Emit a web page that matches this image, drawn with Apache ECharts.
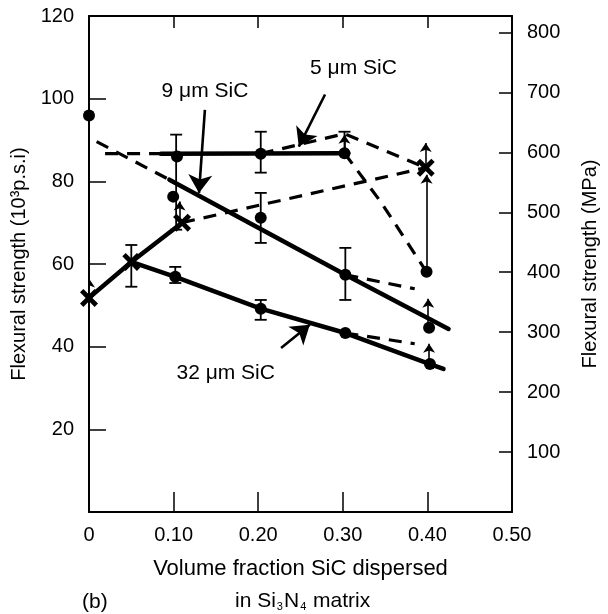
<!DOCTYPE html>
<html>
<head>
<meta charset="utf-8">
<script src="https://cdn.jsdelivr.net/npm/echarts@6/dist/echarts.min.js"></script>
<style>
html,body{margin:0;padding:0;background:#fff;}
#c{width:608px;height:614px;}
</style>
</head>
<body>
<div id="c"></div>
<script>
// ---- data (x = volume fraction, y = flexural strength in 10^3 psi) ----
const xTickLabels = {0:'0', 0.1:'0.10', 0.2:'0.20', 0.3:'0.30', 0.4:'0.40', 0.5:'0.50'};
const leftTicks = [20, 40, 60, 80, 100, 120];
const rightTicks = [100, 200, 300, 400, 500, 600, 700, 800];

const s32Solid = [[0.050,60.5],[0.102,56.9],[0.203,49.2],[0.303,43.3],[0.403,35.8],[0.419,34.6]];
const s32Points = [[0.102,56.9],[0.203,49.2],[0.303,43.3],[0.403,35.8]];
const s32Dashed = [[0.303,43.3],[0.385,40.7]];

const s9Solid = [[0.095,80.4],[0.303,57.4],[0.425,44.3]];
const s9DashedStart = [[0.009,89.6],[0.095,80.4]];
const s9DashedEnd = [[0.303,57.4],[0.385,54.0]];
const s9Points = [[0.303,57.4]];

const s5Solid = [[0.085,86.7],[0.302,86.8]];
const s5Points = [[0.104,86.0],[0.203,86.7],[0.302,86.8]];
const s5DashedLeft = [[0.019,86.7],[0.085,86.7]];
const s5DashedUp = [[0.203,86.7],[0.302,91.5],[0.398,83.3]];
const s5DashedDown = [[0.302,86.8],[0.345,75.0],[0.399,58.1]];

const crossSolid = [[0,51.8],[0.050,60.5],[0.110,70.0]];
const crossDashed = [[0.110,70.0],[0.398,83.3]];
const crossPoints = [[0,51.8],[0.050,60.5],[0.110,70.0],[0.398,83.3]];

const otherPoints = [[0,95.9],[0.0995,76.3],[0.203,71.2],[0.399,58.1],[0.402,44.6]];

// error bars: [x, low, high]
const errorBars = [[0.050,54.5,64.6],[0.102,55.4,59.3],[0.203,46.5,51.3],[0.103,68.3,91.3],
                   [0.203,82.1,92.0],[0.203,65.1,77.2],[0.303,51.3,63.9],[0.302,86.8,92.0]];

// small upward arrows: [x, from, to]
const upArrows = [[0,51.8,56.5],[0.107,70.7,75.1],[0.302,87.5,91.3],[0.398,83.3,89.3],
                  [0.399,58.1,81.6],[0.401,44.6,51.6],[0.402,35.8,40.7]];

// label callouts
const labelNames = ['9 μm SiC', '5 μm SiC', '32 μm SiC'];
const labelPos = [[0.137,101.8],[0.3126,107.4],[0.1616,33.6]];
const pointerFrom = [[0.137,97.3],[0.279,101.0],[0.227,39.7]];
const pointerTo = [[0.130,77.2],[0.248,88.4],[0.261,45.3]];

const MPA_PER_KSI = 6.894757;
const FONT = 'Liberation Sans';

const chart = echarts.init(document.getElementById('c'), null, {renderer:'canvas'});

const solid = (data) => ({type:'line', data, symbol:'none', silent:true, z:3,
  lineStyle:{color:'#000', width:4.5, type:'solid', cap:'round', opacity:1}});
const dashed = (data) => ({type:'line', data, symbol:'none', silent:true, z:2,
  lineStyle:{color:'#000', width:3.2, type:[13,9], opacity:1}});

const xPath = 'path://M3,0 L8,5 L13,0 L16,3 L11,8 L16,13 L13,16 L8,11 L3,16 L0,13 L5,8 L0,3 Z';

const axisCommon = {axisLine:{show:true, onZero:false, lineStyle:{color:'#000', width:2}}, splitLine:{show:false}};

const option = {
  animation:false,
  textStyle:{fontFamily:FONT, color:'#000'},
  grid:{left:89, right:92, top:16, bottom:102, containLabel:false},
  xAxis:[Object.assign({}, axisCommon, {
    type:'value', min:0, max:0.5, interval:0.1, position:'bottom',
    axisTick:{show:true, inside:true, length:20, lineStyle:{color:'#000', width:1.5}},
    axisLabel:{fontSize:20, fontFamily:FONT, color:'#000', margin:13,
      formatter:(v)=>{const k=Math.round(v*10)/10; return xTickLabels[k]!==undefined?xTickLabels[k]:'';}},
    name:'Volume fraction SiC dispersed', nameLocation:'middle', nameGap:46,
    nameTextStyle:{fontSize:22, fontFamily:FONT, color:'#000'}
  }), Object.assign({}, axisCommon, {
    type:'value', min:0, max:0.5, interval:0.1, position:'top',
    axisTick:{show:true, inside:true, length:12, lineStyle:{color:'#000', width:1.5}},
    axisLabel:{show:false}
  })],
  yAxis:[Object.assign({}, axisCommon, {
    type:'value', min:0, max:120, interval:20, position:'left',
    axisTick:{show:true, inside:true, length:17, lineStyle:{color:'#000', width:1.5}},
    axisLabel:{fontSize:20, fontFamily:FONT, color:'#000', margin:15,
      formatter:(v)=> leftTicks.indexOf(v)>=0 ? String(v) : ''},
    name:'Flexural strength (10³p.s.i)', nameLocation:'middle', nameGap:57, nameRotate:90,
    nameTextStyle:{fontSize:20, fontFamily:FONT, color:'#000'}
  }), Object.assign({}, axisCommon, {
    type:'value', min:0, max:120*MPA_PER_KSI, interval:100, position:'right',
    axisTick:{show:true, inside:true, length:13, lineStyle:{color:'#000', width:1.5}},
    axisLabel:{fontSize:20, fontFamily:FONT, color:'#000', margin:15, showMaxLabel:false,
      formatter:(v)=> rightTicks.indexOf(Math.round(v))>=0 && Math.abs(v-Math.round(v))<1e-6 ? String(Math.round(v)) : ''},
    name:'Flexural strength (MPa)', nameLocation:'middle', nameGap:68, nameRotate:90,
    nameTextStyle:{fontSize:20, fontFamily:FONT, color:'#000'}
  })],
  graphic:[
    {type:'text', left:82, top:592, style:{text:'(b)', font:'21px "Liberation Sans"', fill:'#000'}},
    {type:'text', left:235, top:591, style:{
      text:'{a|in Si}{s|3}{a|N}{s|4}{a| matrix}',
      rich:{a:{fontSize:21, fontFamily:FONT, fill:'#000', color:'#000'},
            s:{fontSize:11, fontFamily:FONT, fill:'#000', color:'#000', verticalAlign:'bottom', padding:[10,1,0,1]}}
    }}
  ],
  series:[
    dashed(s9DashedStart), dashed(s9DashedEnd), dashed(s32Dashed),
    dashed(s5DashedLeft), dashed(s5DashedUp), dashed(s5DashedDown), dashed(crossDashed),
    solid(s32Solid), solid(s9Solid), solid(s5Solid), solid(crossSolid),
    {
      type:'custom', silent:true, z:4,
      data:errorBars,
      renderItem:(params, api)=>{
        const x=api.value(0), lo=api.value(1), hi=api.value(2);
        const pl=api.coord([x,lo]), ph=api.coord([x,hi]);
        const st={stroke:'#000', lineWidth:1.8};
        const hw=6;
        return {type:'group', children:[
          {type:'line', shape:{x1:pl[0],y1:pl[1],x2:ph[0],y2:ph[1]}, style:st},
          {type:'line', shape:{x1:pl[0]-hw,y1:pl[1],x2:pl[0]+hw,y2:pl[1]}, style:st},
          {type:'line', shape:{x1:ph[0]-hw,y1:ph[1],x2:ph[0]+hw,y2:ph[1]}, style:st}
        ]};
      }
    },
    {
      type:'lines', coordinateSystem:'cartesian2d', silent:true, z:4,
      symbol:['none','arrow'], symbolSize:[6,9],
      lineStyle:{color:'#000', width:1.6, opacity:1},
      data:upArrows.map(a=>({coords:[[a[0],a[1]],[a[0],a[2]]]}))
    },
    {
      type:'lines', coordinateSystem:'cartesian2d', silent:true, z:4,
      symbol:['none','arrow'], symbolSize:[10,18],
      lineStyle:{color:'#000', width:2.6, opacity:1},
      data:pointerFrom.map((p,i)=>({coords:[p, pointerTo[i]]}))
    },
    {type:'scatter', data:s32Points.concat(s9Points, s5Points, otherPoints), symbol:'circle', symbolSize:12,
      itemStyle:{color:'#000', opacity:1}, z:5, silent:true},
    {type:'scatter', data:crossPoints, symbol:xPath, symbolSize:18,
      itemStyle:{color:'#000', opacity:1}, z:5, silent:true},
    {type:'scatter', data:labelPos.map((p,i)=>[p[0],p[1],labelNames[i]]), symbolSize:1,
      itemStyle:{color:'rgba(0,0,0,0)'}, z:6, silent:true,
      label:{show:true, position:'inside', formatter:(p)=>p.value[2], fontSize:21, fontFamily:FONT, color:'#000', opacity:1}}
  ]
};
chart.setOption(option);
</script>
</body>
</html>
